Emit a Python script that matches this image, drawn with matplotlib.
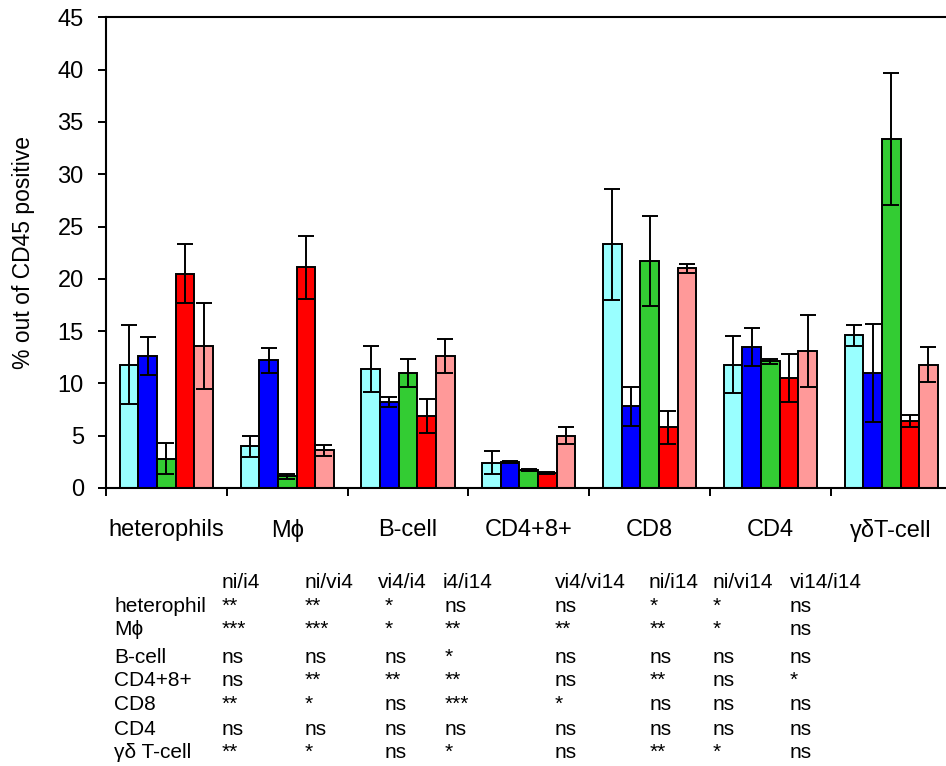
import matplotlib
matplotlib.use('Agg')
import matplotlib.pyplot as plt
import numpy as np

plt.rcParams['font.family'] = ['Liberation Sans', 'DejaVu Sans']

# ================================== data ====================================

categories = ['heterophils', 'Mϕ', 'B-cell', 'CD4+8+', 'CD8', 'CD4', 'γδT-cell']

# one bar per group in every category (mean and error)
cyan_mean = [11.8, 4.0, 11.4, 2.4, 23.3, 11.8, 14.6]
cyan_err = [3.8, 1.0, 2.2, 1.1, 5.3, 2.7, 1.0]
blue_mean = [12.6, 12.2, 8.2, 2.5, 7.8, 13.5, 11.0]
blue_err = [1.8, 1.2, 0.5, 0.1, 1.9, 1.8, 4.7]
green_mean = [2.8, 1.1, 11.0, 1.7, 21.7, 12.1, 33.4]
green_err = [1.5, 0.2, 1.3, 0.1, 4.3, 0.2, 6.3]
red_mean = [20.5, 21.1, 6.9, 1.4, 5.8, 10.5, 6.4]
red_err = [2.8, 3.0, 1.6, 0.1, 1.6, 2.3, 0.6]
pink_mean = [13.6, 3.6, 12.6, 5.0, 21.0, 13.1, 11.8]
pink_err = [4.1, 0.5, 1.6, 0.8, 0.4, 3.4, 1.7]

# significance table under the chart
comparisons = ['ni/i4', 'ni/vi4', 'vi4/i4', 'i4/i14', 'vi4/vi14', 'ni/i14', 'ni/vi14', 'vi14/i14']
cell_types = ['heterophil', 'Mϕ', 'B-cell', 'CD4+8+', 'CD8', 'CD4', 'γδ T-cell']
significance = [
    ['**', '**', '*', 'ns', 'ns', '*', '*', 'ns'],
    ['***', '***', '*', '**', '**', '**', '*', 'ns'],
    ['ns', 'ns', 'ns', '*', 'ns', 'ns', 'ns', 'ns'],
    ['ns', '**', '**', '**', 'ns', '**', 'ns', '*'],
    ['**', '*', 'ns', '***', '*', 'ns', 'ns', 'ns'],
    ['ns', 'ns', 'ns', 'ns', 'ns', 'ns', 'ns', 'ns'],
    ['**', '*', 'ns', '*', 'ns', '**', '*', 'ns'],
]

# ================================= figure ===================================

W, H = 946, 766
fig = plt.figure(figsize=(W / 100, H / 100), dpi=100)
ax = fig.add_axes([106 / W, 1 - 488 / H, 840 / W, (488 - 17.3) / H])

series = [
    (cyan_mean, cyan_err, '#99FFFF'),
    (blue_mean, blue_err, '#0000FF'),
    (green_mean, green_err, '#33CC33'),
    (red_mean, red_err, '#FF0000'),
    (pink_mean, pink_err, '#FF9999'),
]

centers = np.arange(len(categories)) + 0.5
width = 0.154
for j, (mean, err, color) in enumerate(series):
    pos = centers + (j - 2) * width
    ax.bar(pos, mean, width, color=color, edgecolor='black', linewidth=1.4, zorder=2)
    ax.errorbar(pos, mean, yerr=err, fmt='none', ecolor='black',
                elinewidth=1.4, capsize=6, capthick=1.4, zorder=3)

ax.set_xlim(0, 840 / 120.8)
ax.set_ylim(0, 45)

# boundaries get the tick marks, centers get the labels
ax.set_xticks(np.arange(len(categories)))
ax.set_xticklabels([])
ax.set_xticks(centers, minor=True)
ax.set_xticklabels(categories, minor=True)
ax.tick_params(axis='x', which='major', direction='out', length=6, width=1.4)
ax.tick_params(axis='x', which='minor', length=0, pad=22, labelsize=17)

ax.set_yticks(range(0, 46, 5))
ax.tick_params(axis='y', direction='out', length=6, width=1.4, pad=10, labelsize=17)

ax.spines['right'].set_visible(False)
for side in ['top', 'left', 'bottom']:
    ax.spines[side].set_linewidth(1.5)

ax.set_ylabel('% out of CD45 positive', fontsize=16.5)
ax.yaxis.set_label_coords(-0.085, 0.5)

# ============================ significance table ============================

header_x = [222, 305, 378, 443, 555, 649, 713, 790]
value_x = [222, 305, 385, 445, 555, 650, 713, 790]
header_y = 588
row_y = [612, 635, 663, 686, 710, 735, 758]


def put(px, py, s):
    fig.text(px / W, 1 - py / H, s, ha='left', va='baseline', fontsize=15)


for cx, name in zip(header_x, comparisons):
    put(cx, header_y, name)

for ry, name, marks in zip(row_y, cell_types, significance):
    put(114, ry, name)
    for cx, m in zip(value_x, marks):
        put(cx, ry, m)

fig.savefig('out.png', dpi=100)
